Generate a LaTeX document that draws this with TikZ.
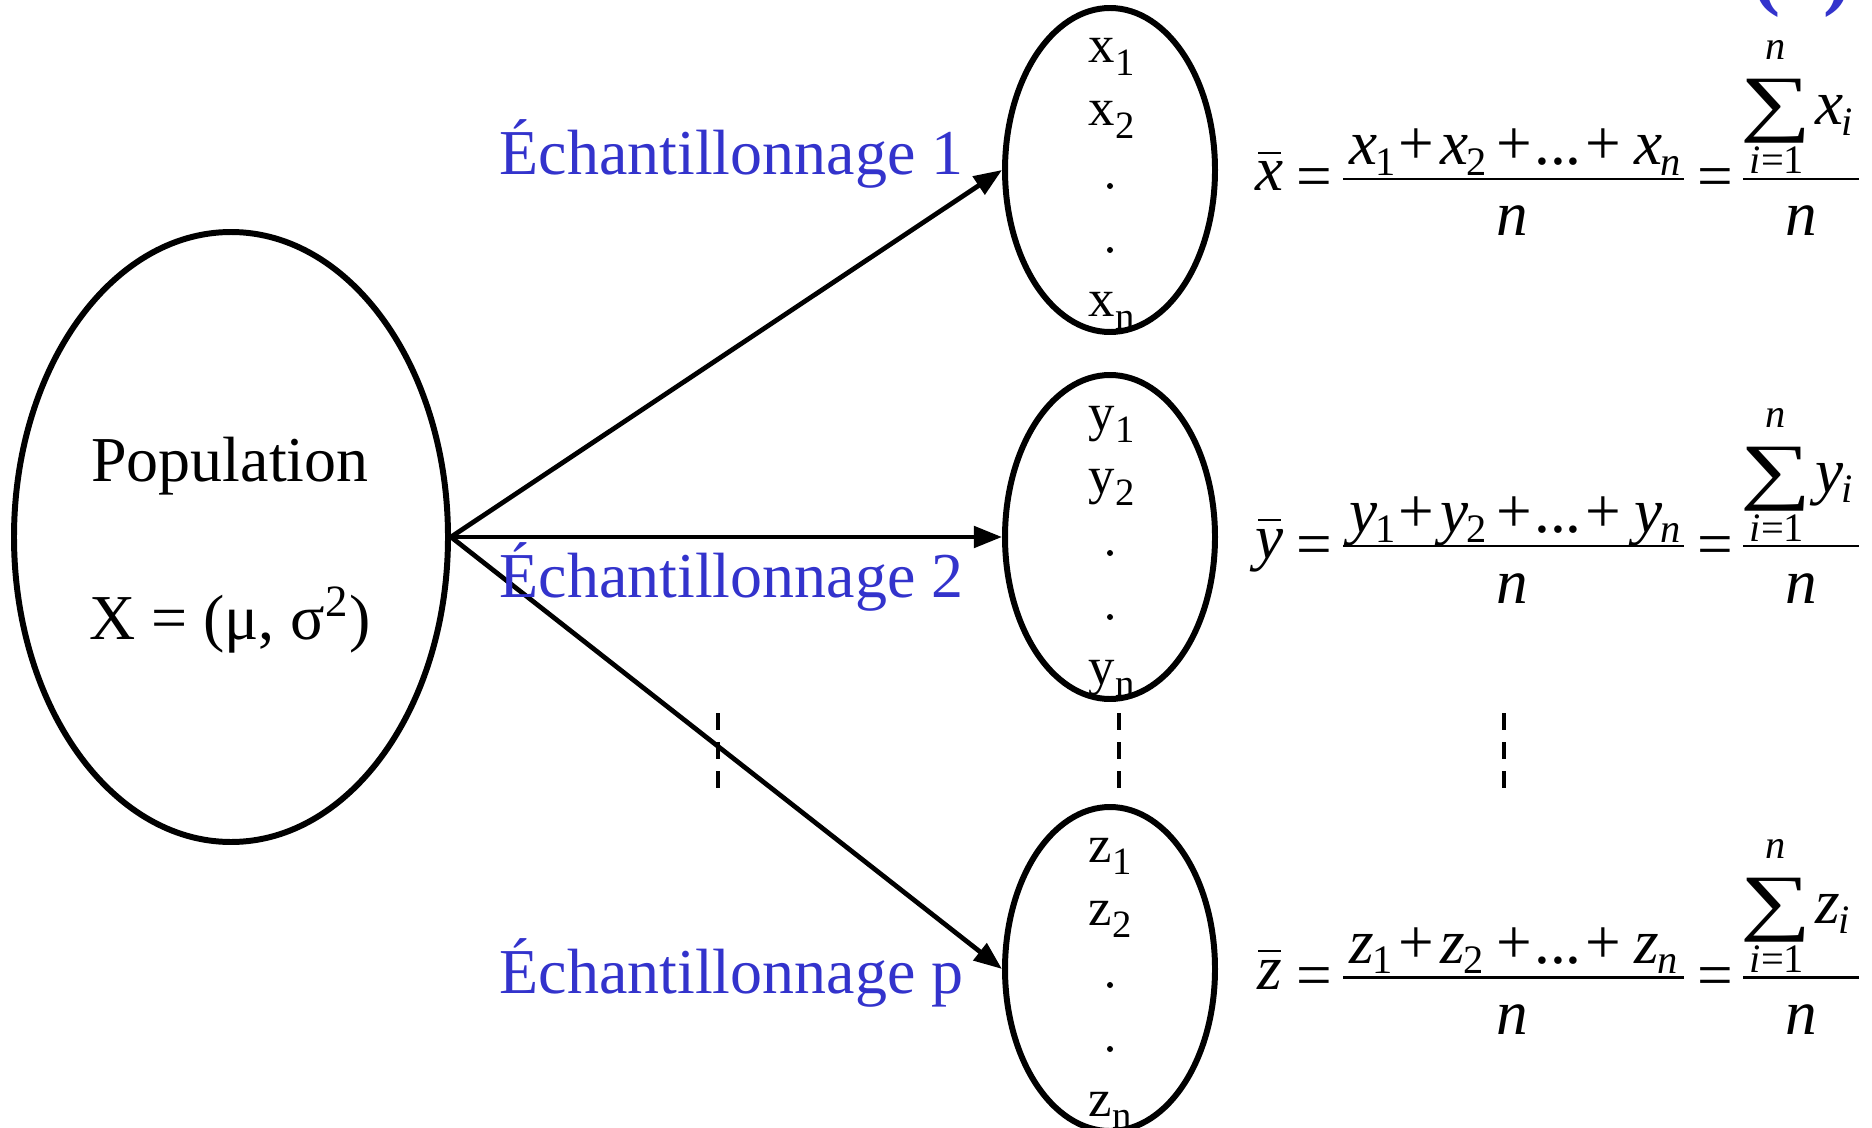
\documentclass[tikz,border=0pt]{standalone}
\usepackage{fontspec}
\setmainfont{Liberation Serif}
\usetikzlibrary{shapes.geometric,arrows.meta}
\definecolor{lblue}{RGB}{51,51,204}
\newcommand\ssub[1]{\raisebox{-0.24em}{\fontsize{11}{11}\selectfont #1}}
\newcommand\fsub[1]{\kern-0.03em\raisebox{-0.17em}{\fontsize{11.5}{11.5}\selectfont #1}}
\tikzset{
  bigell/.style={ellipse, draw, line width=1.7pt, inner sep=0pt},
  arr/.style={-{Triangle[length=8pt,width=6pt]}, line width=1.35pt},
  lbl/.style={font=\fontsize{18.2}{18.2}\selectfont, text=lblue, anchor=base west, inner sep=0pt},
  poptxt/.style={font=\fontsize{18.2}{18.2}\selectfont, anchor=base, inner sep=0pt},
  smp/.style={font=\fontsize{15}{15}\selectfont, anchor=base west, inner sep=0pt},
  dashln/.style={dash pattern=on 4.8pt off 3.5pt, line width=1.05pt},
  fm/.style={font=\fontsize{18}{18}\selectfont, inner sep=0pt},
  fs/.style={font=\fontsize{11.5}{11.5}\selectfont, inner sep=0pt},
  fbar/.style={line width=0.85pt},
}
\newcommand\samplabels[3]{%
  \node[smp] (#1a) at (1088,{#3-107}) {#2\ssub{1}};
  \node[smp] (#1b) at (1088,{#3-44}) {#2\ssub{2}};
  \fill (1110,{#3+16}) circle (3);
  \fill (1110,{#3+80}) circle (3);
  \node[smp] (#1c) at (1088,{#3+147}) {#2\ssub{n}};
}
\newcommand\meanrow[3]{%
  \begin{scope}[shift={(0,#3)}]
    \node[fm, anchor=base] (#1v) at (1270,191) {\textit{#2}};
    \draw[line width=0.8pt] (1258,153) -- (1281,153);
    \node[fm, anchor=base] (#1e1) at (1314,198) {=};
    \node[fm, anchor=base west] (#1t1) at (1349,165) {\textit{#2}\fsub{1}};
    \node[fm, anchor=base] (#1p1) at (1416,165) {+};
    \node[fm, anchor=base west] (#1t2) at (1440,165) {\textit{#2}\fsub{2}};
    \node[fm, anchor=base] (#1p2) at (1514,165) {+};
    \node[fm, anchor=base] (#1dots) at (1558,165) {...};
    \node[fm, anchor=base] (#1p3) at (1603,165) {+};
    \node[fm, anchor=base west] (#1t3) at (1634,165) {\textit{#2}\fsub{\textit{n}}};
    \draw[fbar] (1343,179) -- (1684,179);
    \node[fm, anchor=base] (#1den) at (1512,236) {\textit{n}};
    \node[fm, anchor=base] (#1e2) at (1715,198) {=};
    \node[font=\fontsize{21}{21}\selectfont, anchor=base, inner sep=0pt] (#1sig) at (1776,128) {\scalebox{1.35}[1]{∑}};
    \node[fs, anchor=base] (#1up) at (1776,60) {\textit{n}};
    \node[fs, anchor=base] (#1lo) at (1777,174) {\textit{i}=1};
    \node[fm, anchor=base west] (#1xi) at (1815,125) {\textit{#2}\fsub{\textit{i}}};
    \draw[fbar] (1743,179) -- (1859,179);
    \node[fm, anchor=base] (#1den2) at (1801,236) {\textit{n}};
  \end{scope}
}
\begin{document}
\begin{tikzpicture}[x=0.1mm,y=-0.1mm]
\useasboundingbox (0,0) rectangle (1872,1128);
% cut-off tag at top right
\node[anchor=base, text=lblue, font=\bfseries\fontsize{24}{24}\selectfont, inner sep=0pt] (tag) at (1802,0) {(2)};
% population
\node[poptxt] (popt) at (230,481) {Population};
\node[poptxt] (popx) at (230,639) {X = (μ, σ\textsuperscript{2})};
\node[bigell, minimum width=43.4mm, minimum height=61mm] (pop) at (231,537) {};
% samples
\samplabels{sx}{x}{170}
\samplabels{sy}{y}{537}
\samplabels{sz}{z}{969}
\node[bigell, minimum width=21mm, minimum height=32.4mm] (s1) at (1110,170) {};
\node[bigell, minimum width=21mm, minimum height=32.4mm] (s2) at (1110,537) {};
\node[bigell, minimum width=21mm, minimum height=32.4mm] (s3) at (1110,969) {};
% arrows
\draw[arr] (pop.east) -- (s1.west);
\draw[arr] (pop.east) -- (s2.west);
\draw[arr] (pop.east) -- (s3.west);
% labels
\node[lbl] (l1) at (499,175) {Échantillonnage 1};
\node[lbl] (l2) at (499,597) {Échantillonnage 2};
\node[lbl] (l3) at (499,993) {Échantillonnage p};
% dashed
\draw[dashln] (718,713) -- (718,788);
\draw[dashln] (1119,713) -- (1119,788);
\draw[dashln] (1504,713) -- (1504,788);
% formulas
\meanrow{fx}{x}{0}
\meanrow{fy}{y}{367}
\meanrow{fz}{z}{798}
\end{tikzpicture}
\end{document}
